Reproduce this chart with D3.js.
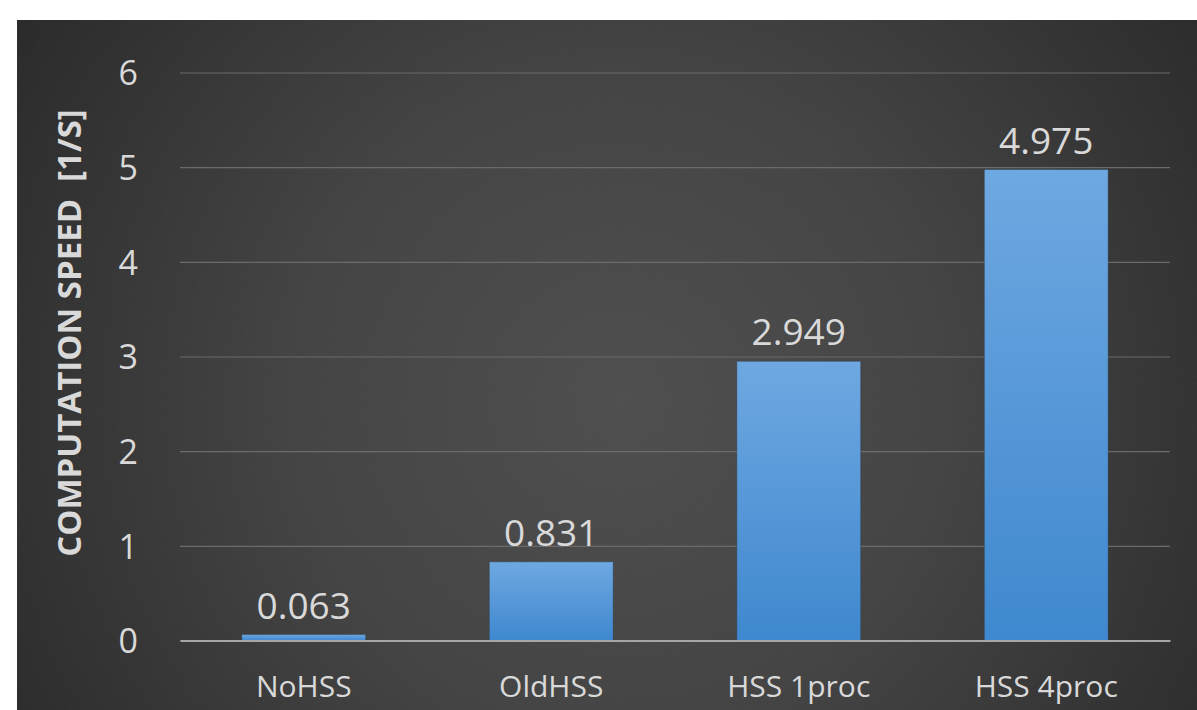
<!DOCTYPE html>
<html>
<head>
<meta charset="utf-8">
<script src="https://cdn.jsdelivr.net/npm/d3@7"></script>
<style>
  html, body { margin: 0; padding: 0; background: #ffffff; }
  svg { display: block; }
  .y-title { white-space: pre; }
</style>
</head>
<body>
<svg id="chart" width="1197" height="710"></svg>
<script>
// Benchmark results: computation speed per configuration
const categories = ["NoHSS", "OldHSS", "HSS 1proc", "HSS 4proc"];
const speeds = [0.063, 0.831, 2.949, 4.975];
const yTicks = [0, 1, 2, 3, 4, 5, 6];
const yTitle = "COMPUTATION SPEED  [1/S]";

const svg = d3.select("#chart");
const W = 1197, H = 710;
const panel = { x: 17, y: 20, w: W - 17, h: H - 20 };
const FONT = "'Open Sans', 'Noto Sans', sans-serif";
const TEXT = "#d9d9d9";

const defs = svg.append("defs");

// dark vignette behind the chart
const bg = defs.append("radialGradient")
  .attr("id", "bgGrad")
  .attr("gradientUnits", "userSpaceOnUse")
  .attr("cx", 620).attr("cy", 400).attr("r", 720);
bg.append("stop").attr("offset", "0%").attr("stop-color", "#4c4c4c");
bg.append("stop").attr("offset", "45%").attr("stop-color", "#414141");
bg.append("stop").attr("offset", "100%").attr("stop-color", "#262626");

// bar fill: lighter at the top, deeper blue at the base
const barGrad = defs.append("linearGradient")
  .attr("id", "barGrad")
  .attr("x1", 0).attr("y1", 0).attr("x2", 0).attr("y2", 1);
barGrad.append("stop").attr("offset", "0%").attr("stop-color", "#6ea8e1");
barGrad.append("stop").attr("offset", "100%").attr("stop-color", "#3f88cf");

// faint grain over the backdrop
const grain = defs.append("filter").attr("id", "grain")
  .attr("x", 0).attr("y", 0).attr("width", "100%").attr("height", "100%");
grain.append("feTurbulence")
  .attr("type", "fractalNoise").attr("baseFrequency", 0.9)
  .attr("numOctaves", 2).attr("seed", 3).attr("result", "n");
grain.append("feColorMatrix").attr("in", "n").attr("type", "matrix")
  .attr("values", "0 0 0 0 0.5  0 0 0 0 0.5  0 0 0 0 0.5  0 0 0 0.06 0");

svg.append("rect")
  .attr("x", panel.x).attr("y", panel.y)
  .attr("width", panel.w).attr("height", panel.h)
  .attr("fill", "url(#bgGrad)");
svg.append("rect")
  .attr("x", panel.x).attr("y", panel.y)
  .attr("width", panel.w).attr("height", panel.h)
  .attr("filter", "url(#grain)");

// scales
const x = d3.scaleBand()
  .domain(categories)
  .range([180, 1170])
  .paddingInner(0.5)
  .paddingOuter(0.25);

const y = d3.scaleLinear()
  .domain([0, 6])
  .range([640.5, 72.5]);

// horizontal gridlines and tick labels
const yAxis = d3.axisLeft(y)
  .tickValues(yTicks)
  .tickSize(-(1170 - 180))
  .tickPadding(42)
  .tickFormat(d3.format("d"));

const gy = svg.append("g")
  .attr("transform", "translate(180,0)")
  .call(yAxis);
gy.select(".domain").remove();
gy.selectAll(".tick line")
  .attr("stroke", "#6b6b6b")
  .attr("stroke-width", 1.2);
gy.selectAll(".tick text")
  .attr("fill", TEXT)
  .attr("font-family", FONT)
  .attr("font-size", 34)
  .attr("dy", "0.36em");

// bars
svg.append("g").selectAll("rect")
  .data(speeds)
  .join("rect")
  .attr("x", (d, i) => x(categories[i]))
  .attr("y", d => y(d))
  .attr("width", x.bandwidth())
  .attr("height", d => y(0) - y(d))
  .attr("fill", "url(#barGrad)")
  .attr("stroke", "#2e3a46")
  .attr("stroke-opacity", 0.35)
  .attr("stroke-width", 1);

// category baseline and labels
const gx = svg.append("g")
  .attr("transform", `translate(0,${y(0)})`)
  .call(d3.axisBottom(x).tickSize(0).tickPadding(0));
gx.select(".domain")
  .attr("stroke", "#a6a6a6")
  .attr("stroke-width", 2);
gx.selectAll(".tick text")
  .attr("fill", TEXT)
  .attr("font-family", FONT)
  .attr("font-size", 30)
  .attr("dy", null)
  .attr("y", 56);

// value labels above each bar
svg.append("g").selectAll("text")
  .data(speeds)
  .join("text")
  .attr("x", (d, i) => x(categories[i]) + x.bandwidth() / 2)
  .attr("y", d => y(d) - 16)
  .attr("text-anchor", "middle")
  .attr("fill", TEXT)
  .attr("font-family", FONT)
  .attr("font-size", 37)
  .text(d => d3.format(".3f")(d));

// vertical axis title
svg.append("text")
  .attr("class", "y-title")
  .attr("transform", "translate(81,333) rotate(-90)")
  .attr("text-anchor", "middle")
  .attr("fill", TEXT)
  .attr("font-family", FONT)
  .attr("font-weight", "bold")
  .attr("font-size", 33)
  .text(yTitle);
</script>
</body>
</html>
